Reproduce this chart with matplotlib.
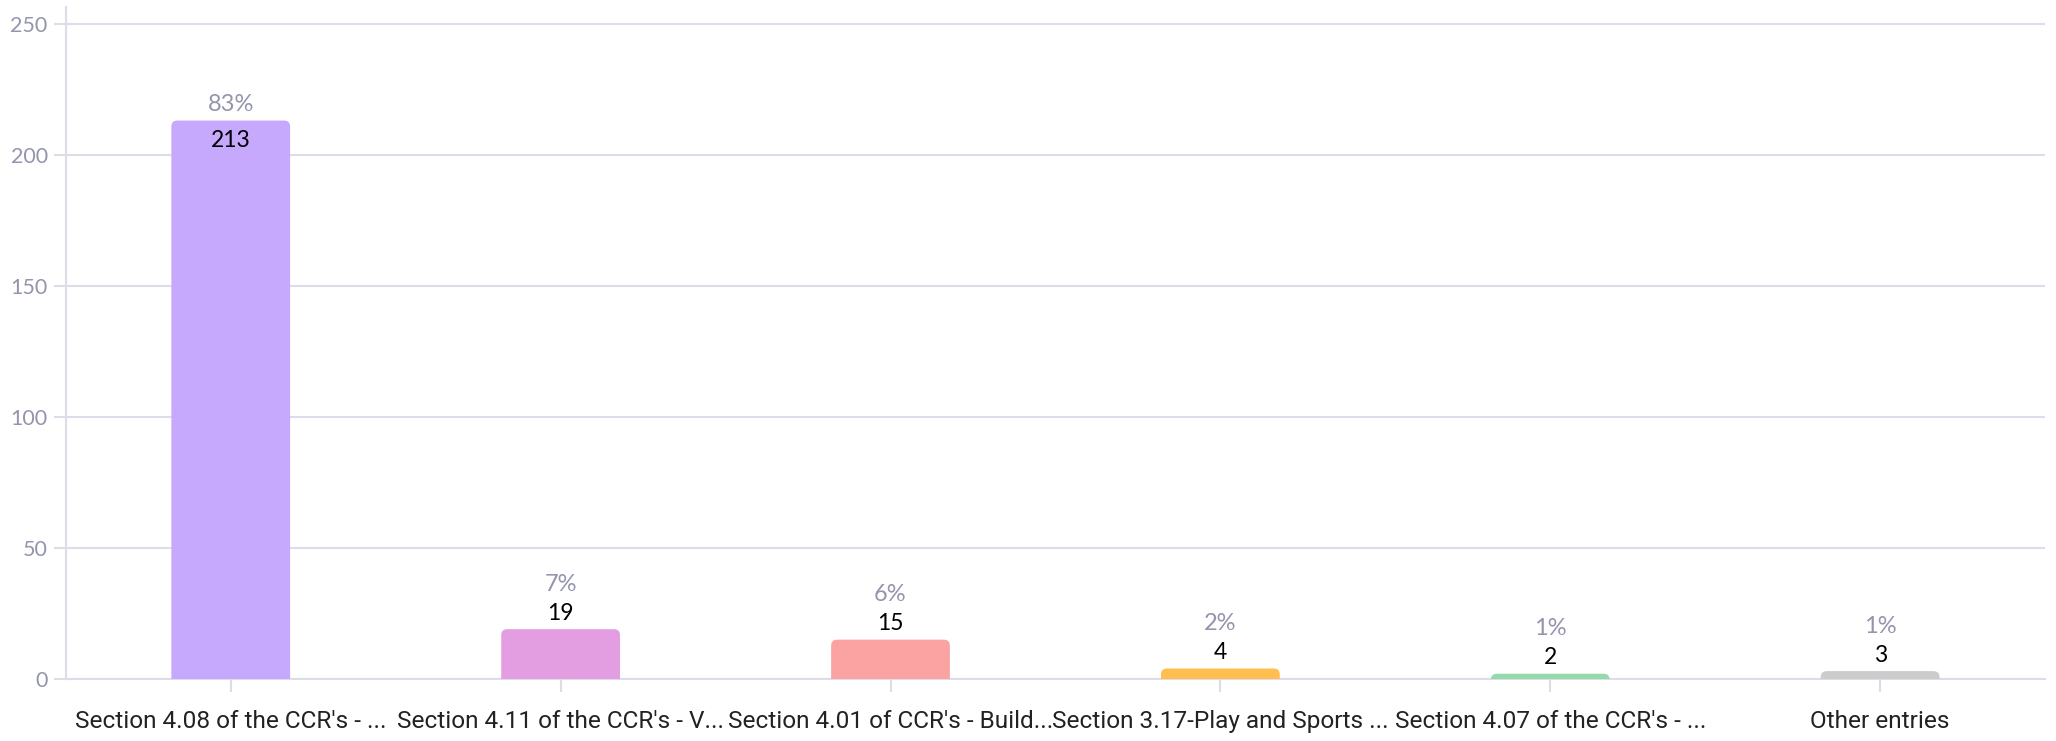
import numpy as np
import matplotlib.pyplot as plt
from matplotlib.patches import FancyBboxPatch

categories = ["Section 4.08 of the CCR's - ...", "Section 4.11 of the CCR's - V...",
              "Section 4.01 of CCR's - Build...", "Section 3.17-Play and Sports ...",
              "Section 4.07 of the CCR's - ...", "Other entries"]
counts = [213, 19, 15, 4, 2, 3]
percents = ["83%", "7%", "6%", "2%", "1%", "1%"]
colors = ['#c6a9fd', '#e29ee0', '#faa3a2', '#ffbf50', '#93d9aa', '#cccccc']

grid_c = '#dddde9'
tick_c = '#9494ad'

plt.rcParams['font.family'] = ['Lato', 'DejaVu Sans']

fig = plt.figure(figsize=(20.56, 7.41), dpi=100)
ax = fig.add_axes([0.032, 0.0837, 0.9627, 0.9075])

x = np.arange(len(categories))
bars = ax.bar(x, counts, width=0.36, color=colors, zorder=3)

ax.set_xlim(-0.5, len(categories) - 0.5)
ax.set_ylim(0, 256.5)

# swap plain rectangles for ones with rounded tops
px_x = ax.get_window_extent().width / 6.0
px_y = ax.get_window_extent().height / 256.5
r = 6.0 / px_x
aspect = px_x / px_y
for rect, c in zip(bars, colors):
    rect.set_visible(False)
    pad = r * aspect
    p = FancyBboxPatch((rect.get_x(), -pad), rect.get_width(), rect.get_height() + pad,
                       boxstyle="round,pad=0,rounding_size=%f" % r,
                       mutation_aspect=aspect, fc=c, ec='none', zorder=3)
    ax.add_patch(p)

# value labels
for i, (v, pct) in enumerate(zip(counts, percents)):
    if v > 100:
        off_n, off_p = -20, 16
    else:
        off_n, off_p = 16, 45
    ax.annotate(str(v), (i, v), xytext=(0, off_n), textcoords='offset pixels',
                ha='center', va='center', fontsize=16.5, color='black', zorder=4)
    ax.annotate(pct, (i, v), xytext=(0, off_p), textcoords='offset pixels',
                ha='center', va='center', fontsize=17, color=tick_c, zorder=4)

ax.set_yticks([0, 50, 100, 150, 200, 250])
ax.yaxis.grid(True, color=grid_c, linewidth=1.5, zorder=0)
ax.set_axisbelow(True)

ax.set_xticks(x)
ax.set_xticklabels(categories, fontsize=17.6, color='#222222', family=['Roboto', 'DejaVu Sans'])

for s in ['top', 'right']:
    ax.spines[s].set_visible(False)
for s in ['left', 'bottom']:
    ax.spines[s].set_color(grid_c)
    ax.spines[s].set_linewidth(1.5)

ax.tick_params(axis='y', colors=grid_c, labelcolor=tick_c, labelsize=15.5, length=9, width=1.5, pad=4)
ax.tick_params(axis='x', colors=grid_c, labelcolor='#222222', length=9, width=1.5, pad=13)

fig.savefig('out.png', dpi=100)
